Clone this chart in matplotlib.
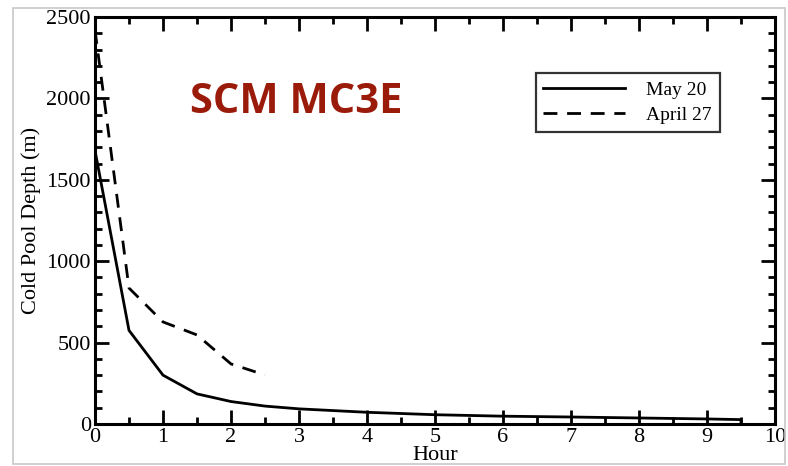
import numpy as np
import matplotlib.pyplot as plt
from matplotlib.patches import Rectangle
from matplotlib.ticker import MultipleLocator

# cold pool depth
hours_may = [0, 0.5, 1, 1.5, 2, 2.5, 3, 4, 5, 6, 7, 8, 9, 9.5, 9.5]
depth_may = [1680, 575, 300, 185, 138, 110, 93, 72, 57, 48, 43, 37, 31, 27, 0]
hours_apr = [0, 0.5, 1, 1.5, 2, 2.5]
depth_apr = [2420, 835, 627, 547, 369, 301]

plt.rcParams['font.family'] = 'Liberation Serif'

fig = plt.figure(figsize=(7.88, 4.66), dpi=100)
ax = fig.add_axes([95/788, 42/466, 680/788, 407/466])

# light grey frame around the slide image
fig.patches.append(Rectangle((13/788, 2/466), 772/788, 456/466, transform=fig.transFigure,
                             fill=False, edgecolor='#c8c8c8', lw=1.2))

ax.plot(hours_may, depth_may, color='black', lw=2, label='May 20')
ax.plot(hours_apr, depth_apr, color='black', lw=2, ls=(0, (5, 3.5)), label='April 27')

ax.set_xlim(0, 10)
ax.set_ylim(0, 2500)
ax.xaxis.set_major_locator(MultipleLocator(1))
ax.xaxis.set_minor_locator(MultipleLocator(0.5))
ax.yaxis.set_major_locator(MultipleLocator(500))
ax.yaxis.set_minor_locator(MultipleLocator(100))
ax.tick_params(which='both', direction='in', top=True, right=True, width=2, labelsize=16, pad=3)
ax.tick_params(which='major', length=10)
ax.tick_params(which='minor', length=5)
for s in ax.spines.values():
    s.set_linewidth(2.2)

ax.set_xlabel('Hour', fontsize=16, labelpad=-1)
ax.set_ylabel('Cold Pool Depth (m)', fontsize=16, labelpad=4)

ax.text(0.139, 0.765, 'SCM MC3E', transform=ax.transAxes, fontsize=30, fontweight='bold',
        color='#9b1b0a', family='Open Sans')

leg = ax.legend(loc='upper left', bbox_to_anchor=(0.648, 0.862), fontsize=14, frameon=True,
                fancybox=False, edgecolor='black', handlelength=4.2, borderpad=0.4,
                labelspacing=0.4, handletextpad=1.1, borderaxespad=0)
leg.get_frame().set_linewidth(1.6)

fig.savefig('out.png', dpi=100)
